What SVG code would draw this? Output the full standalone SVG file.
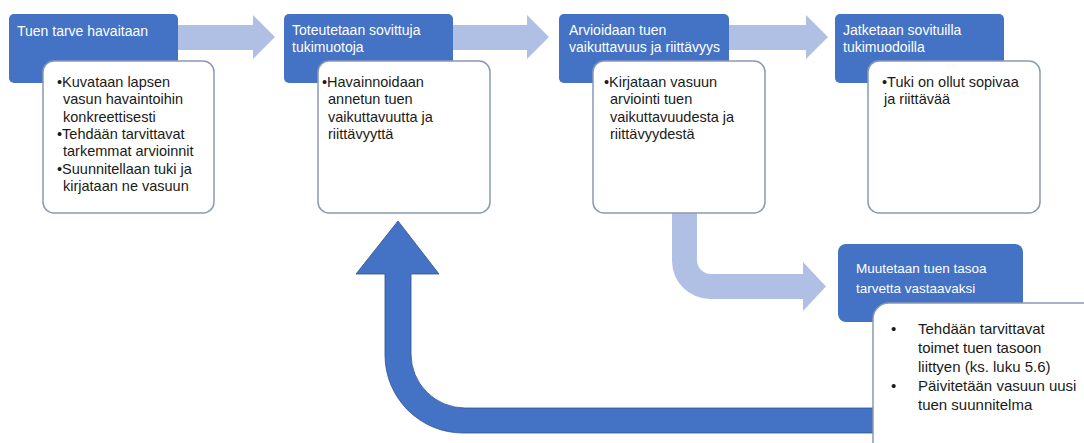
<svg xmlns="http://www.w3.org/2000/svg" width="1084" height="443" viewBox="0 0 1084 443">
<style>
.hdr{fill:#4472C4}
.card{fill:#FFFFFF;stroke:#8A99B3;stroke-width:1.5}
.ht{font-family:"Liberation Sans",Arial,sans-serif;font-size:14px;fill:#FFFFFF}
.bt{font-family:"Liberation Sans",Arial,sans-serif;font-size:14.5px;fill:#1A1A1A}
.light{fill:#AFC0E4}
.dark{fill:#4472C4;stroke:#2F528F;stroke-width:0.8}
</style>
<rect width="1084" height="443" fill="#FFFFFF"/>
<g id="connectors">
  <path class="light" d="M178,25 H253 V15 L275,37 L253,59 V50 H178 Z"/>
  <path class="light" d="M453,25 H527 V15 L549,37 L527,59 V50 H453 Z"/>
  <path class="light" d="M729,25 H806 V15 L828,37 L806,59 V50 H729 Z"/>
  <path class="light" d="M672,205 V261 A38,38 0 0 0 710,299 H803 V311 L826,286.5 L803,262 V274 H711 A14,14 0 0 1 697,260 V205 Z"/>
  <path class="dark" d="M900,433 H463 A78,78 0 0 1 385,355 V274 H356 L398,221 L439,274 H411 V354 A54,54 0 0 0 465,408 H900 Z"/>
</g>
<g id="node1">
  <rect class="hdr" x="9" y="14" width="169" height="69" rx="5"/>
  <text class="ht" x="17" y="36">Tuen tarve havaitaan</text>
  <rect class="card" x="43" y="61" width="171" height="152" rx="11"/>
  <text class="bt"><tspan x="57" y="87">•Kuvataan lapsen</tspan><tspan x="63" y="104.3">vasun havaintoihin</tspan><tspan x="63" y="121.6">konkreettisesti</tspan><tspan x="57" y="139">•Tehdään tarvittavat</tspan><tspan x="63" y="156.3">tarkemmat arvioinnit</tspan><tspan x="57" y="173.6">•Suunnitellaan tuki ja</tspan><tspan x="63" y="191">kirjataan ne vasuun</tspan></text>
</g>
<g id="node2">
  <rect class="hdr" x="284" y="14" width="169" height="69" rx="5"/>
  <text class="ht"><tspan x="292" y="35">Toteutetaan sovittuja</tspan><tspan x="292" y="52">tukimuotoja</tspan></text>
  <rect class="card" x="318" y="61" width="172" height="152" rx="11"/>
  <text class="bt"><tspan x="322" y="87">•Havainnoidaan</tspan><tspan x="328" y="104.3">annetun tuen</tspan><tspan x="328" y="121.6">vaikuttavuutta ja</tspan><tspan x="328" y="139">riittävyyttä</tspan></text>
</g>
<g id="node3">
  <rect class="hdr" x="559" y="14" width="170" height="69" rx="5"/>
  <text class="ht"><tspan x="569" y="35">Arvioidaan tuen</tspan><tspan x="569" y="52">vaikuttavuus ja riittävyys</tspan></text>
  <rect class="card" x="593" y="61" width="172" height="152" rx="11"/>
  <text class="bt"><tspan x="604" y="87">•Kirjataan vasuun</tspan><tspan x="610" y="104.3">arviointi tuen</tspan><tspan x="610" y="121.6">vaikuttavuudesta ja</tspan><tspan x="610" y="139">riittävyydestä</tspan></text>
</g>
<g id="node4">
  <rect class="hdr" x="835" y="14" width="169" height="69" rx="5"/>
  <text class="ht"><tspan x="843" y="35">Jatketaan sovituilla</tspan><tspan x="843" y="52">tukimuodoilla</tspan></text>
  <rect class="card" x="868" y="61" width="172" height="152" rx="11"/>
  <text class="bt"><tspan x="882" y="87">•Tuki on ollut sopivaa</tspan><tspan x="884" y="104.3">ja riittävää</tspan></text>
</g>
<g id="node5">
  <rect class="hdr" x="838" y="244" width="185" height="78" rx="8"/>
  <text class="ht" style="font-size:13.5px"><tspan x="856" y="273">Muutetaan tuen tasoa</tspan><tspan x="856" y="293">tarvetta vastaavaksi</tspan></text>
  <rect class="card" x="873" y="303" width="230" height="170" rx="16"/>
  <text class="bt" style="font-size:15px"><tspan x="891" y="334">•</tspan><tspan x="918" y="334">Tehdään tarvittavat</tspan><tspan x="918" y="353">toimet tuen tasoon</tspan><tspan x="918" y="372">liittyen (ks. luku 5.6)</tspan><tspan x="891" y="391">•</tspan><tspan x="918" y="391">Päivitetään vasuun uusi</tspan><tspan x="918" y="410">tuen suunnitelma</tspan></text>
</g>
</svg>
